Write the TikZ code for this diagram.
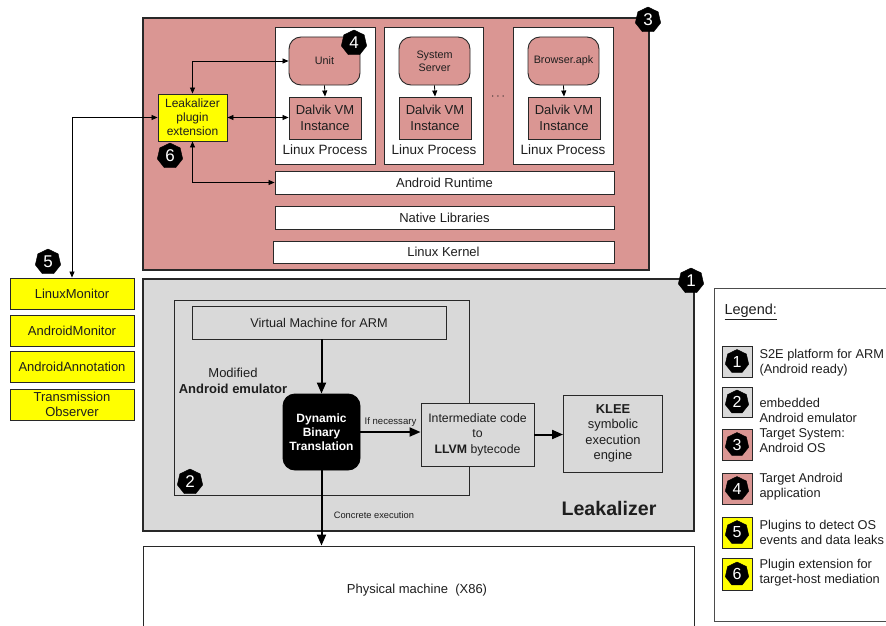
\documentclass[tikz,border=0pt]{standalone}
\usepackage{fontspec}
\setmainfont{Liberation Sans}
\usetikzlibrary{shapes.geometric,arrows.meta}
\definecolor{pinkc}{RGB}{218,150,147}
\definecolor{greyc}{RGB}{217,217,217}
\definecolor{yel}{RGB}{255,255,0}
\definecolor{txt}{RGB}{30,30,30}
\definecolor{edge}{RGB}{40,40,40}
\begin{document}
\begin{tikzpicture}[x=1pt,y=-1pt,
  fs/.style 2 args={font=\fontsize{#1}{#2}\selectfont},
  sz/.style 2 args={minimum width=#1pt, minimum height=#2pt},
  bx/.style={draw=edge, line width=0.9pt, inner sep=0pt, text=txt, align=center},
  badge/.style={regular polygon, regular polygon sides=7, fill=black, draw=black,
    inner sep=0pt, minimum size=26pt, text=white, font=\fontsize{17}{17}\selectfont},
  lbadge/.style={badge, minimum size=24pt, font=\fontsize{16}{16}\selectfont},
  thinarr/.style={draw=black, line width=0.8pt, {Triangle[length=6pt,width=5pt]}-{Triangle[length=6pt,width=5pt]}},
  downarr/.style={draw=black, line width=0.8pt, -{Triangle[length=6pt,width=5pt]}},
  thickarr/.style={draw=black, line width=2pt, -{Triangle[length=11pt,width=9pt]}},
  lgtext/.style={anchor=west, text=txt, align=left, fs={12.8}{15}}
]
\useasboundingbox (0,0) rectangle (886,626);
\fill[white] (0,0) rectangle (886,626);

% ---------- Target system (3) ----------
\node[bx, fill=pinkc, line width=1.2pt, sz={506}{252}] (os) at (396,144) {};
\node[badge] (b3) at (648,20) {3};

\node[bx, fill=white, sz={100}{137}] (lp1) at (325,95.5) {};
\node[bx, fill=white, sz={99}{137}] (lp2) at (433.5,95.5) {};
\node[bx, fill=white, sz={100}{137}] (lp3) at (563,95.5) {};
\node[text=txt, fs={13.5}{15}] (lpt1) at (325,150) {Linux Process};
\node[text=txt, fs={13.5}{15}] (lpt2) at (434,150) {Linux Process};
\node[text=txt, fs={13.5}{15}] (lpt3) at (563,150) {Linux Process};
\node[text=txt, fs={13}{15}] (dots) at (498,97) {$\cdots$};

\node[bx, fill=pinkc, rounded corners=12pt, sz={71}{48}, fs={10.8}{13}] (unit) at (324.5,61) {Unit};
\node[bx, fill=pinkc, rounded corners=12pt, sz={71}{48}, fs={10.8}{13}] (sys) at (434.5,61) {System\\Server};
\node[bx, fill=pinkc, rounded corners=12pt, sz={71}{48}, fs={10.8}{13}] (brw) at (563.5,61) {Browser.apk};
\node[bx, fill=pinkc, sz={72}{42}, fs={13}{16}] (dv1) at (325,118) {Dalvik VM\\Instance};
\node[bx, fill=pinkc, sz={72}{42}, fs={13}{16}] (dv2) at (435,118) {Dalvik VM\\Instance};
\node[bx, fill=pinkc, sz={72}{42}, fs={13}{16}] (dv3) at (564,118) {Dalvik VM\\Instance};
\node[badge] (b4) at (354,43) {4};

\draw[downarr] (unit.south) -- (dv1.north);
\draw[downarr] (sys.south) -- (dv2.north);
\draw[downarr] (brw.south) -- (dv3.north);

\node[bx, fill=white, sz={339}{23}, fs={13}{15}] (art) at (444.5,182.5) {Android Runtime};
\node[bx, fill=white, sz={339}{23}, fs={13}{15}] (nat) at (444.5,217.5) {Native Libraries};
\node[bx, fill=white, sz={341}{22}, fs={13}{15}] (ker) at (443.5,252) {Linux Kernel};

\node[bx, fill=yel, sz={69}{47}, fs={12}{14}] (lk) at (192.5,117.5) {Leakalizer\\plugin\\extension};
\node[badge] (b6) at (170,156) {6};

\draw[thinarr] (lk.north) |- (unit.west);
\draw[thinarr] (lk.east) -- (lk.east -| dv1.west);
\draw[thinarr] (lk.south) |- (art.west);

% ---------- Plugins (5) ----------
\node[bx, fill=yel, sz={124}{31}, fs={13}{14}] (lm) at (72,293.5) {LinuxMonitor};
\node[bx, fill=yel, sz={124}{31}, fs={13}{14}] (am) at (72,330.5) {AndroidMonitor};
\node[bx, fill=yel, sz={124}{31}, fs={13}{14}] (aa) at (72,366.5) {AndroidAnnotation};
\node[bx, fill=yel, sz={124}{31}, fs={13}{14.5}] (to) at (72,404.5) {Transmission\\Observer};
\node[badge] (b5) at (48,262) {5};
\draw[thinarr] (lm.north) |- (lk.west);

% ---------- S2E (1) ----------
\node[bx, fill=greyc, line width=1.2pt, sz={551}{252}] (s2e) at (418.5,405) {};
\node[badge] (b1) at (691,281) {1};
\node[bx, line width=1pt, sz={295}{195}] (emu) at (321.5,397.5) {};
\node[badge] (b2) at (190,482) {2};
\node[bx, fill=greyc, sz={254}{33}, fs={12.7}{14}] (vm) at (319,322.5) {Virtual Machine for ARM};
\node[text=txt, align=center, fs={13}{16}] (modl) at (233,381) {Modified\\\textbf{Android emulator}};
\node[bx, draw=black, fill=black, rounded corners=12pt, text=white, sz={77}{76}, fs={12}{14}] (dbt) at (321.5,432) {\textbf{Dynamic}\\\textbf{Binary}\\\textbf{Translation}};
\node[bx, fill=greyc, sz={113}{63}, fs={12.3}{15.5}] (ir) at (477.5,434.5) {Intermediate code\\to\\\textbf{LLVM} bytecode};
\node[bx, fill=greyc, sz={99}{77}, fs={12.9}{15.5}] (klee) at (613,433.5) {\textbf{KLEE}\\symbolic\\execution\\engine};
\node[text=txt, fs={19.6}{21}] (lkz) at (609,508) {\textbf{Leakalizer}};

\draw[thickarr] (dbt.north |- vm.south) -- (dbt.north);
\draw[thickarr] (dbt.east) -- (dbt.east -| ir.west)
  node[midway, above=1pt, text=txt, fs={9.6}{10}] (ifn) {If necessary};
\draw[thickarr] (ir.east) -- (ir.east -| klee.west);

% ---------- Physical machine ----------
\node[bx, fill=white, sz={551}{96}] (phys) at (418.5,594) {};
\node[text=txt, fs={13}{15}] (physt) at (417,590) {Physical machine\ \ (X86)};
\draw[thickarr] (dbt.south) -- (dbt.south |- phys.north)
  node[pos=0.6, right=8pt, text=txt, fs={9.3}{10}] (conc) {Concrete execution};

% ---------- Legend ----------
\node[bx, draw=black!70, fill=white, line width=0.8pt, sz={186}{333}] (leg) at (807,454.5) {};
\node[anchor=west, text=txt, fs={14.5}{16}] (legt) at (721,312) {\underline{Legend:}};

\node[bx, fill=greyc, sz={30}{31}] (l1) at (737,361.5) {};
\node[lbadge] at (l1) {1};
\node[lgtext] (lt1) at (756,363) {S2E platform for ARM\\(Android ready)};
\node[bx, fill=greyc, sz={30}{30}] (l2) at (737,402) {};
\node[lbadge] at (l2) {2};
\node[lgtext] (lt2) at (756,410) {embedded\\Android emulator};
\node[bx, fill=pinkc, sz={30}{31}] (l3) at (737,444.5) {};
\node[lbadge] at (l3) {3};
\node[lgtext] (lt3) at (756,441) {Target System:\\Android OS};
\node[bx, fill=pinkc, sz={30}{31}] (l4) at (737,488.5) {};
\node[lbadge] at (l4) {4};
\node[lgtext] (lt4) at (756,487) {Target Android\\application};
\node[bx, fill=yel, sz={30}{31}] (l5) at (737,532.5) {};
\node[lbadge] at (l5) {5};
\node[lgtext] (lt5) at (756,532) {Plugins to detect OS\\events and data leaks};
\node[bx, fill=yel, sz={30}{32}] (l6) at (737,574) {};
\node[lbadge] at (l6) {6};
\node[lgtext] (lt6) at (756,573) {Plugin extension for\\target-host mediation};
\end{tikzpicture}
\end{document}
